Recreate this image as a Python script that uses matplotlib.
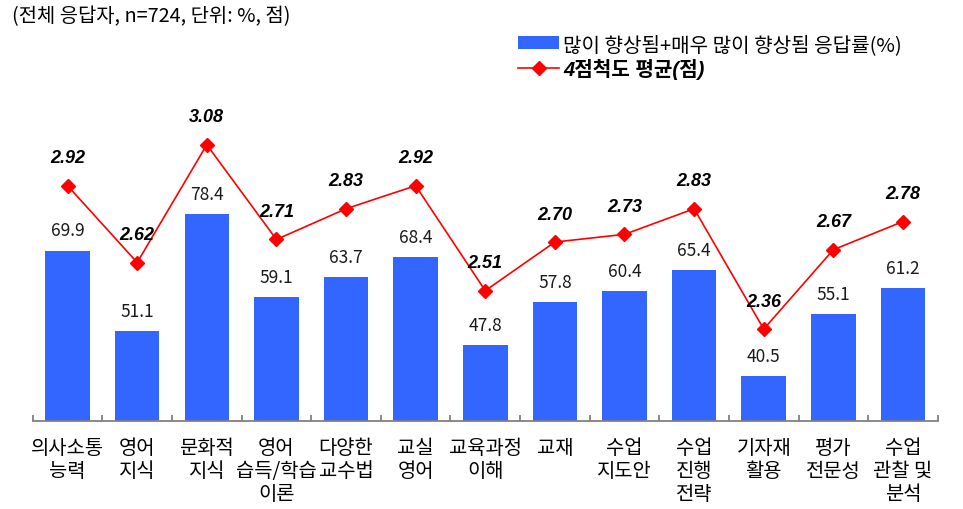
import numpy as np
import matplotlib.pyplot as plt
from matplotlib.patches import Patch
from matplotlib.lines import Line2D

plt.rcParams['font.family'] = ['Noto Sans CJK KR', 'DejaVu Sans']

# data
categories = ['의사소통\n능력', '영어\n지식', '문화적\n지식', '영어\n습득/학습\n이론', '다양한\n교수법',
              '교실\n영어', '교육과정\n이해', '교재', '수업\n지도안', '수업\n진행\n전략',
              '기자재\n활용', '평가\n전문성', '수업\n관찰 및\n분석']
rate = [69.9, 51.1, 78.4, 59.1, 63.7, 68.4, 47.8, 57.8, 60.4, 65.4, 40.5, 55.1, 61.2]
mean_score = [2.92, 2.62, 3.08, 2.71, 2.83, 2.92, 2.51, 2.70, 2.73, 2.83, 2.36, 2.67, 2.78]

bar_label = '많이 향상됨+매우 많이 향상됨 응답률(%)'
line_label = '4점척도 평균(점)'
note = '(전체 응답자, n=724, 단위: %, 점)'

blue = '#3366FF'
red = '#FF0000'
num_font = ['Liberation Sans', 'Noto Sans CJK KR']

fig = plt.figure(figsize=(9.63, 5.10), dpi=100)
ax = fig.add_axes([0.034, 0.172, 0.9398, 0.6025])
x = np.arange(len(categories))

ax.bar(x, rate, width=0.64, color=blue, zorder=2)
ax.set_ylim(30, 101.8)
ax.set_xlim(-0.5, len(categories) - 0.5)

for xi, v in zip(x, rate):
    ax.annotate(f'{v:.1f}', (xi, v), xytext=(0, 14.5), textcoords='offset points',
                ha='center', va='center', fontsize=12.5, color='#1a1a1a')

for s in ['top', 'left', 'right']:
    ax.spines[s].set_visible(False)
ax.spines['bottom'].set_color('#808080')
ax.spines['bottom'].set_linewidth(1.3)
ax.set_yticks([])
ax.set_xticks(x)
ax.set_xticklabels(categories, fontsize=14.3, linespacing=1.13)
ax.tick_params(axis='x', which='major', length=0, pad=11)
ax.set_xticks(np.arange(-0.5, len(categories)), minor=True)
ax.tick_params(axis='x', which='minor', direction='in', length=4.5, width=1.3, color='#808080')

ax2 = ax.twinx()
ax2.plot(x, mean_score, color=red, lw=1.2, marker='D', markersize=6.8, zorder=3)
ax2.set_ylim(2.0, 3.2)
ax2.set_yticks([])
for s in ['top', 'left', 'right', 'bottom']:
    ax2.spines[s].set_visible(False)

for xi, v in zip(x, mean_score):
    ax2.annotate(f'{v:.2f}', (xi, v), xytext=(0, 20), textcoords='offset points',
                 ha='center', va='center', fontsize=13, fontweight='bold',
                 fontstyle='italic', family=num_font, color='black')

handles = [Patch(facecolor=blue, edgecolor='none'),
           Line2D([], [], color=red, lw=1.2, marker='D', markersize=6.8)]
leg = fig.legend(handles, [bar_label, line_label], loc='upper left',
                 bbox_to_anchor=(0.538, 0.932), frameon=False, fontsize=14.5,
                 borderpad=0, borderaxespad=0, handlelength=2.03, handleheight=0.55,
                 handletextpad=0.2, labelspacing=0.15)
t = leg.get_texts()[1]
t.set_fontweight('bold')
t.set_fontstyle('italic')
t.set_family(num_font)

fig.text(0.012, 0.968, note, fontsize=14.3, va='center', ha='left')

fig.savefig('out.png', dpi=100)
